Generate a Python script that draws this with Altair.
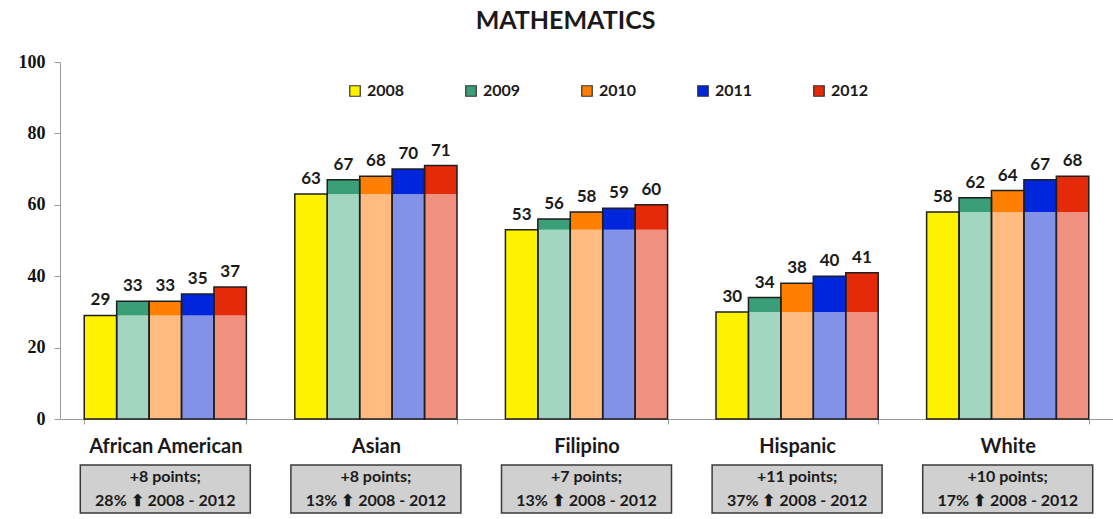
import altair as alt
import pandas as pd

categories = ["African American", "Asian", "Filipino", "Hispanic", "White"]
years = ["2008", "2009", "2010", "2011", "2012"]
scores_2008 = [29, 63, 53, 30, 58]
scores_2009 = [33, 67, 56, 34, 62]
scores_2010 = [33, 68, 58, 38, 64]
scores_2011 = [35, 70, 59, 40, 67]
scores_2012 = [37, 71, 60, 41, 68]
point_gain = ["+8", "+8", "+7", "+11", "+10"]
pct_gain = ["28%", "13%", "13%", "37%", "17%"]

full_colors = ["#FFF200", "#3A9E78", "#FF7F00", "#0026DC", "#E52A0A"]
light_colors = ["#A3D6C1", "#FFBB80", "#8292E6", "#F0907F"]

series = [scores_2008, scores_2009, scores_2010, scores_2011, scores_2012]

bar_rows, seg_rows = [], []
for ci, cat in enumerate(categories):
    base = scores_2008[ci]
    for yi, yr in enumerate(years):
        v = series[yi][ci]
        bar_rows.append({"category": cat, "year": yr, "value": v})
        if yi == 0:
            seg_rows.append({"category": cat, "year": yr, "key": yr, "lo": 0, "hi": v})
        else:
            seg_rows.append({"category": cat, "year": yr, "key": yr + " base", "lo": 0, "hi": base})
            seg_rows.append({"category": cat, "year": yr, "key": yr, "lo": base, "hi": v})
bars = pd.DataFrame(bar_rows)
segs = pd.DataFrame(seg_rows)
boxes = pd.DataFrame({
    "category": categories,
    "line1": [f"{p} points;" for p in point_gain],
    "line2": [f"{p} \u2B06 2008 - 2012" for p in pct_gain],
})

keys = years + [y + " base" for y in years[1:]]
key_colors = full_colors + light_colors

FONT = "Lato"

x_enc = alt.X(
    "category:N", sort=categories, title=None,
    scale=alt.Scale(paddingInner=0.23, paddingOuter=0.115),
    axis=alt.Axis(labelFont=FONT, labelFontSize=20, labelFontWeight="bold",
                  labelColor="#1a1a1a", labelPadding=12, labelAngle=0,
                  domainColor="#9a9a9a", tickColor="#9a9a9a", tickSize=5,
                  tickBand="extent", grid=False),
)
xo_enc = alt.XOffset("year:N", sort=years, scale=alt.Scale(paddingInner=0, paddingOuter=0))

seg_layer = alt.Chart(segs).mark_bar(strokeWidth=0).encode(
    x=x_enc,
    xOffset=xo_enc,
    y=alt.Y("lo:Q", title=None, scale=alt.Scale(domain=[0, 100]),
            axis=alt.Axis(values=[0, 20, 40, 60, 80, 100], labelFont="Liberation Serif",
                          labelFontSize=18, labelFontWeight="bold", labelColor="#111",
                          labelPadding=9, tickSize=6, tickColor="#9a9a9a",
                          domainColor="#9a9a9a", grid=False)),
    y2="hi:Q",
    color=alt.Color("key:N", scale=alt.Scale(domain=keys, range=key_colors),
                    legend=alt.Legend(values=years, title=None, orient="none",
                                      legendX=287, legendY=21, direction="horizontal",
                                      symbolType="square", symbolSize=110,
                                      symbolStrokeColor="#333", symbolStrokeWidth=1.2,
                                      labelFont=FONT, labelFontSize=16,
                                      labelFontWeight="bold", labelColor="#1a1a1a",
                                      labelOffset=4, columnPadding=58, padding=0)),
)

outline_layer = alt.Chart(bars).mark_bar(fillOpacity=0, stroke="#1f1f1f", strokeWidth=1.5).encode(
    x=x_enc, xOffset=xo_enc, y="value:Q",
)

label_layer = alt.Chart(bars).mark_text(
    dy=-10, baseline="alphabetic", font=FONT, fontSize=17, fontWeight="bold", color="#1a1a1a"
).encode(x=x_enc, xOffset=xo_enc, y="value:Q", text="value:Q")

box_layer = alt.Chart(boxes).mark_bar(
    size=170, fill="#d0d0d0", stroke="#3a3a3a", strokeWidth=1.5
).encode(x=x_enc, y=alt.value(403), y2=alt.value(451))

line1_layer = alt.Chart(boxes).mark_text(
    font=FONT, fontSize=16, fontWeight="bold", color="#1a1a1a", baseline="middle"
).encode(x=x_enc, y=alt.value(415), text="line1:N")

line2_layer = alt.Chart(boxes).mark_text(
    font=FONT, fontSize=16, fontWeight="bold", color="#1a1a1a", baseline="middle"
).encode(x=x_enc, y=alt.value(439), text="line2:N")

chart = alt.layer(
    box_layer, seg_layer, outline_layer, label_layer, line1_layer, line2_layer
).properties(
    width=1053, height=357,
    title=alt.TitleParams("MATHEMATICS", font=FONT, fontSize=25, fontWeight="bold",
                          color="#1a1a1a", anchor="middle", frame="bounds", offset=19),
    padding={"left": 18, "top": 9, "right": 0, "bottom": 5},
    background="white",
).configure_view(stroke=None)

chart.save("out.html", embed_options={"renderer": "svg", "actions": False})
